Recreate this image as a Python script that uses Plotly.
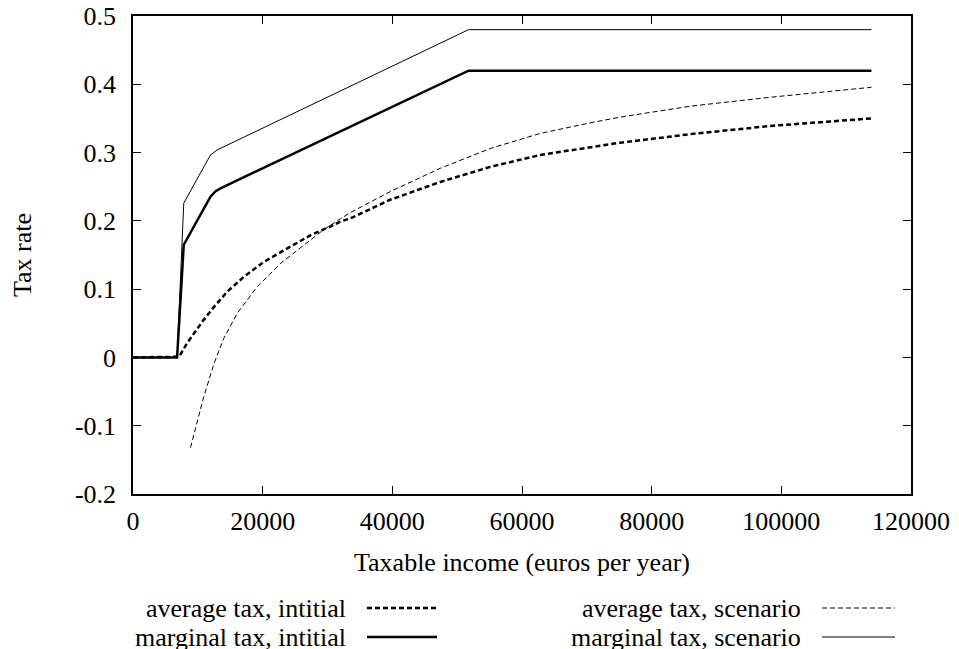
import plotly.graph_objects as go

# ---- data ----
income_avg_initial = [0, 6800, 7100, 8350, 9370, 10900, 12500, 14500, 17100, 20200, 23300,
                      27400, 30500, 32000, 33600, 39700, 47400, 55100, 62800, 70500, 75200,
                      86000, 98300, 113900]
avg_initial = [0, 0, 0.001, 0.021, 0.035, 0.055, 0.074, 0.096, 0.118, 0.140, 0.157,
               0.179, 0.192, 0.199, 0.204, 0.231, 0.257, 0.279, 0.2965, 0.308, 0.3145,
               0.327, 0.339, 0.350]

income_avg_scenario = [8870, 9900, 10900, 12500, 14000, 16100, 19200, 22800, 26400, 29400,
                       32000, 33600, 39700, 47400, 55100, 62800, 70500, 75200, 86000, 98300,
                       113900]
avg_scenario = [-0.132, -0.093, -0.058, -0.009, 0.028, 0.065, 0.104, 0.138, 0.165, 0.187,
                0.203, 0.2125, 0.243, 0.277, 0.306, 0.328, 0.3435, 0.352, 0.368, 0.381,
                0.3956]

income_marg_initial = [0, 6800, 7830, 11950, 12700, 13500, 51750, 113900]
marg_initial = [0, 0, 0.165, 0.2355, 0.243, 0.2477, 0.42, 0.42]

income_marg_scenario = [0, 6800, 7830, 11950, 13000, 14000, 51750, 113900]
marg_scenario = [0, 0, 0.226, 0.2965, 0.304, 0.3085, 0.48, 0.48]

x_tick_vals = [0, 20000, 40000, 60000, 80000, 100000, 120000]
x_tick_text = ["0", "20000", "40000", "60000", "80000", "100000", "120000"]
y_tick_vals = [-0.2, -0.1, 0, 0.1, 0.2, 0.3, 0.4, 0.5]
y_tick_text = ["-0.2", "-0.1", "0", "0.1", "0.2", "0.3", "0.4", "0.5"]

series_names = ["average tax, intitial", "marginal tax, intitial",
                "average tax, scenario", "marginal tax, scenario"]

FONT = "Liberation Serif"
FS = 26

styles = [
    dict(width=2.5, dash="5px,3px"),
    dict(width=2.5, dash="solid"),
    dict(width=1, dash="5px,3px"),
    dict(width=1, dash="solid"),
]

fig = go.Figure()
data = [(income_avg_initial, avg_initial), (income_marg_initial, marg_initial),
        (income_avg_scenario, avg_scenario), (income_marg_scenario, marg_scenario)]
for (xs, ys), name, st in zip(data, series_names, styles):
    fig.add_trace(go.Scatter(x=xs, y=ys, mode="lines", name=name, showlegend=False,
                             line=dict(color="black", width=st["width"], dash=st["dash"])))

# page body has an 8px margin: figure starts at page px (8, 8) and runs to the window edge
OFF = 8
W, H = 959 - OFF, 649 - OFF
L, R, T, B = 133 - OFF, W - (911 - OFF), 16 - OFF, H - (494 - OFF)
pw, ph = W - L - R, H - T - B

def px_x(p):  # page pixel -> paper coordinate
    return (p - OFF - L) / pw

def px_y(p):
    return (H - B - (p - OFF)) / ph

# manual gnuplot-style key: text right-aligned, sample to the right
key_layout = [  # (text right edge, sample start, sample end, row centre) in page px
    (348, 367, 437, 608),
    (348, 367, 437, 637),
    (803, 822, 895, 608),
    (803, 822, 895, 637),
]
for name, st, (tx, s0, s1, ry) in zip(series_names, styles, key_layout):
    fig.add_annotation(x=px_x(tx), y=px_y(ry), xref="paper", yref="paper", text=name,
                       showarrow=False, xanchor="right", yanchor="middle",
                       font=dict(family=FONT, size=FS, color="black"))
    fig.add_shape(type="line", xref="paper", yref="paper",
                  x0=px_x(s0), x1=px_x(s1), y0=px_y(ry), y1=px_y(ry),
                  line=dict(color="black", width=st["width"], dash=st["dash"]))

axis_common = dict(showline=True, linecolor="black", linewidth=1.5, mirror="ticks",
                   ticks="inside", ticklen=8, tickwidth=1, tickcolor="black",
                   showgrid=False, zeroline=False, ticklabeloverflow="allow",
                   tickfont=dict(family=FONT, size=FS, color="black"))

fig.update_xaxes(range=[0, 120000], tickvals=x_tick_vals, ticktext=x_tick_text,
                 title=dict(text="Taxable income (euros per year)", standoff=18,
                            font=dict(family=FONT, size=FS, color="black")),
                 ticklabelstandoff=3, **axis_common)
fig.update_yaxes(range=[-0.2, 0.5], tickvals=y_tick_vals, ticktext=y_tick_text,
                 title=dict(text="Tax rate", standoff=37,
                            font=dict(family=FONT, size=FS, color="black")),
                 ticklabelstandoff=10, **axis_common)

fig.update_layout(width=W, height=H, margin=dict(l=L, r=R, t=T, b=B, autoexpand=False),
                  plot_bgcolor="white", paper_bgcolor="white",
                  font=dict(family=FONT, size=FS, color="black"))

fig.write_html("out.html")
